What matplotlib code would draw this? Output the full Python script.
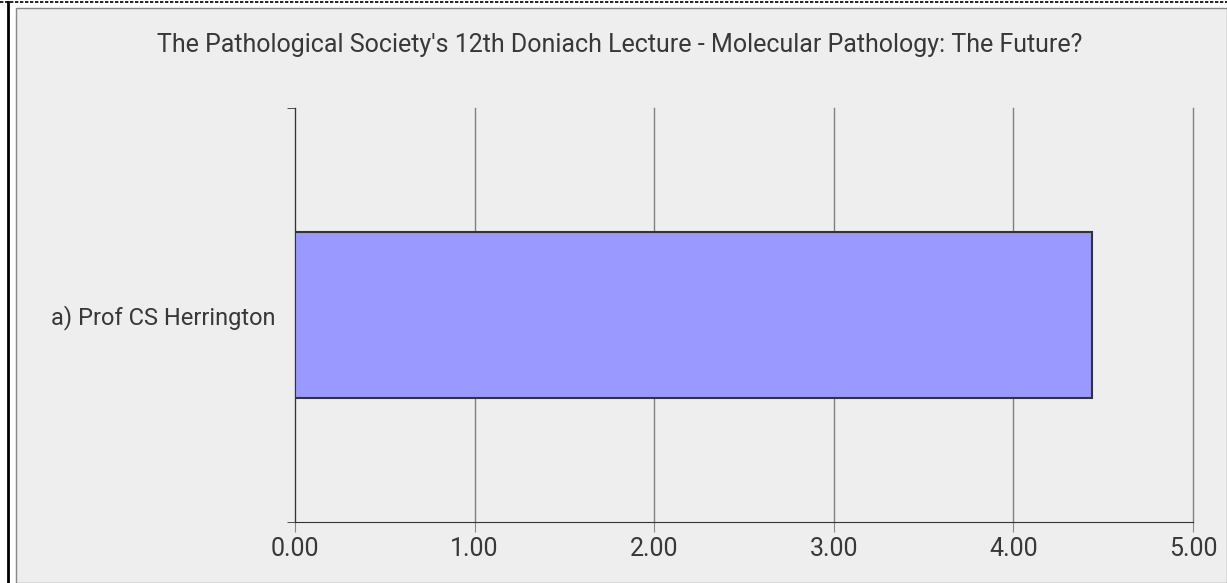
import numpy as np
import matplotlib.pyplot as plt
from matplotlib.patches import Rectangle
from matplotlib.lines import Line2D

# Datos
categorias = ["a) Prof CS Herrington"]
valores = [4.44]
ticks_x = [0, 1, 2, 3, 4, 5]
titulo = "The Pathological Society's 12th Doniach Lecture - Molecular Pathology: The Future?"

plt.rcParams['font.family'] = ['Roboto', 'DejaVu Sans']

fig = plt.figure(figsize=(12.27, 5.83), dpi=100)
fig.patch.set_facecolor("white")
W, H = 1227, 583

# Marco gris interior y bordes punteados
fig.patches.append(Rectangle((16 / W, 0), 1 - 16 / W, 1 - 8 / H, transform=fig.transFigure,
                             facecolor="#eeeeee", edgecolor="#888888", linewidth=1, zorder=-5))
fig.lines.append(Line2D([0, 1], [1 - 2 / H, 1 - 2 / H], transform=fig.transFigure,
                        color="black", linestyle=(0, (2, 1)), linewidth=1.2, zorder=-4))
fig.lines.append(Line2D([8 / W, 8 / W], [0, 1 - 2 / H], transform=fig.transFigure,
                        color="black", linewidth=2, zorder=-4))

# Ejes
ax = fig.add_axes([295 / W, 1 - 522 / H, (1193 - 295) / W, (522 - 108) / H])
ax.set_facecolor("none")

y = np.arange(len(categorias))
ax.barh(y, valores, height=0.4, color="#9999ff", edgecolor="#333333", linewidth=1.5, zorder=3)

ax.set_xlim(0, 5)
ax.set_ylim(-0.5, 0.5)
ax.set_xticks(ticks_x)
ax.set_xticklabels([f"{t:.2f}" for t in ticks_x], fontsize=18, color="#383838")
ax.set_yticks(y)
ax.set_yticklabels(categorias, fontsize=17, color="#383838")
ax.tick_params(axis="y", length=0, pad=14)
ax.set_yticks([-0.5, 0.5], minor=True)
ax.tick_params(axis="y", which="minor", length=6, color="#333333", direction="out")
ax.tick_params(axis="x", length=7, color="#888888", pad=4)

# Cuadrícula
ax.grid(axis="x", color="#808080", linewidth=1, zorder=1)
for linea in ax.get_xgridlines():
    linea.set_clip_on(False)
for s in ["top", "right"]:
    ax.spines[s].set_visible(False)
ax.spines["left"].set_color("#333333")
ax.spines["bottom"].set_color("#333333")
ax.spines["bottom"].set_zorder(4)

# Título
fig.text(620 / W, 1 - 45 / H, titulo, ha="center", va="center", fontsize=18, color="#383838")

fig.savefig("out.png", dpi=100, facecolor=fig.get_facecolor())
